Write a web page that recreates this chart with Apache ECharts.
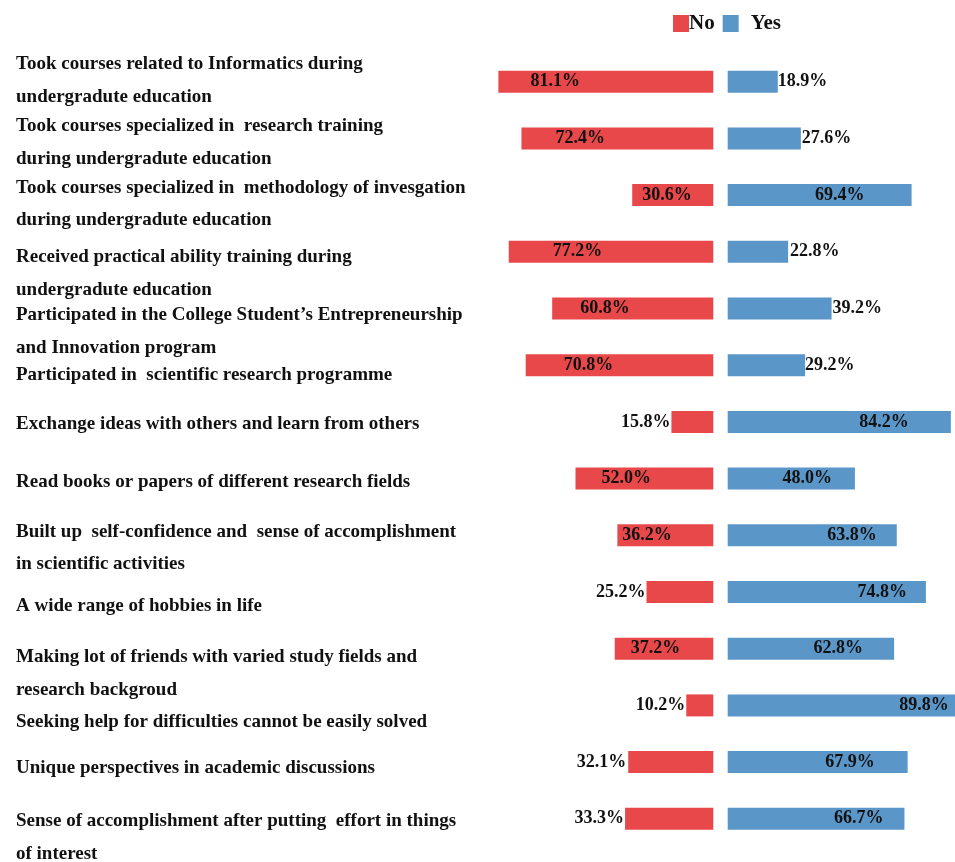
<!DOCTYPE html>
<html>
<head>
<meta charset="utf-8">
<script src="https://cdn.jsdelivr.net/npm/echarts@6/dist/echarts.min.js"></script>
<style>
html,body{margin:0;padding:0;background:#fff;}
#chart{width:955px;height:862px;}
</style>
</head>
<body>
<div id="chart"></div>
<script>
// ---- data ----
const categories = [
  "Took courses related to Informatics during\nundergradute education",
  "Took courses specialized in  research training\nduring undergradute education",
  "Took courses specialized in  methodology of invesgation\nduring undergradute education",
  "Received practical ability training during\nundergradute education",
  "Participated in the College Student\u2019s Entrepreneurship\nand Innovation program",
  "Participated in  scientific research programme",
  "Exchange ideas with others and learn from others",
  "Read books or papers of different research fields",
  "Built up  self-confidence and  sense of accomplishment\nin scientific activities",
  "A wide range of hobbies in life",
  "Making lot of friends with varied study fields and\nresearch backgroud",
  "Seeking help for difficulties cannot be easily solved",
  "Unique perspectives in academic discussions",
  "Sense of accomplishment after putting  effort in things\nof interest"
];
const noValues  = [81.1, 72.4, 30.6, 77.2, 60.8, 70.8, 15.8, 52.0, 36.2, 25.2, 37.2, 10.2, 32.1, 33.3];
const yesValues = [18.9, 27.6, 69.4, 22.8, 39.2, 29.2, 84.2, 48.0, 63.8, 74.8, 62.8, 89.8, 67.9, 66.7];
const seriesNames = ["No", "Yes"];

// ---- styles (label placement / text offsets) ----
const noLabelStyle = [['insideLeft',32],['insideLeft',34],['insideLeft',10],['insideLeft',44],['insideLeft',28],['insideLeft',38],['left',1],['insideLeft',26],['insideLeft',5],['left',1],['insideLeft',16],['left',1],['left',2],['left',1]];
const yesLabelStyle = [['right',0],['right',1],['insideRight',47],['right',2],['right',1],['right',0],['insideRight',42],['insideRight',23],['insideRight',20],['insideRight',19],['insideRight',31],['insideRight',17],['insideRight',33],['insideRight',21]];
const catTextShift = [-1, 4, 9, 22, 23, 10, 2, 3, 13, 14, 25, 17, 6, 19];

const FONT = "'Liberation Serif','Times New Roman',serif";
const RED = '#E8484A', BLUE = '#5B96C8';
const pxPerPct = 2.65;
const axisSpan = 100 * pxPerPct;
const gridTop = 53.35, gridHeight = 793.8;

const valLabel = {fontFamily: FONT, fontWeight: 'bold', fontSize: 18, color: '#111'};
const catText = {fontFamily: FONT, fontWeight: 'bold', fontSize: 19, lineHeight: 32.5, color: '#111', align: 'left'};

function makeData(vals, styles) {
  return vals.map((v, i) => ({
    value: v,
    label: Object.assign({show: true, position: styles[i][0], distance: styles[i][1],
      formatter: p => p.value.toFixed(1) + '%'}, valLabel)
  }));
}

// rich-text spacer lines shift each multi-line label block vertically
const rich = {t: catText};
catTextShift.forEach((d, i) => {
  if (d !== 0) rich['o' + i] = {fontSize: 1, lineHeight: 2 * Math.abs(d), align: 'left'};
});
function catFormatter(value, idx) {
  const d = catTextShift[idx];
  const lines = value.split('\n').map(l => '{t|' + l + '}');
  if (d > 0) lines.unshift('{o' + idx + '| }');
  if (d < 0) lines.push('{o' + idx + '| }');
  return lines.join('\n');
}

const chart = echarts.init(document.getElementById('chart'), null, {renderer: 'canvas'});
chart.setOption({
  animation: false,
  backgroundColor: '#fff',
  legend: {
    left: 668, top: 8, itemWidth: 16, itemHeight: 17, itemGap: 8, icon: 'rect',
    textStyle: {fontFamily: FONT, fontWeight: 'bold', fontSize: 21, color: '#111'},
    data: [
      {name: seriesNames[0], textStyle: {padding: [0, 0, 0, -5]}},
      {name: seriesNames[1], textStyle: {padding: [0, 0, 0, 7]}}
    ]
  },
  grid: [
    {left: 713.3 - axisSpan, width: axisSpan, top: gridTop, height: gridHeight, outerBoundsMode: 'none', containLabel: false},
    {left: 727.7, width: axisSpan, top: gridTop, height: gridHeight, outerBoundsMode: 'none', containLabel: false}
  ],
  xAxis: [
    {gridIndex: 0, type: 'value', min: 0, max: 100, inverse: true, show: false},
    {gridIndex: 1, type: 'value', min: 0, max: 100, show: false}
  ],
  yAxis: [
    {gridIndex: 0, type: 'category', inverse: true, data: categories, position: 'left',
      axisLine: {show: false}, axisTick: {show: false}, splitLine: {show: false},
      axisLabel: Object.assign({margin: 713.3 - axisSpan - 16, interval: 0, verticalAlign: 'middle',
        formatter: catFormatter, rich: rich}, catText)},
    {gridIndex: 1, type: 'category', inverse: true, data: categories, show: false}
  ],
  series: [
    {name: seriesNames[0], type: 'bar', xAxisIndex: 0, yAxisIndex: 0, barWidth: 22,
      itemStyle: {color: RED}, data: makeData(noValues, noLabelStyle)},
    {name: seriesNames[1], type: 'bar', xAxisIndex: 1, yAxisIndex: 1, barWidth: 22,
      itemStyle: {color: BLUE}, data: makeData(yesValues, yesLabelStyle)}
  ]
});
</script>
</body>
</html>
